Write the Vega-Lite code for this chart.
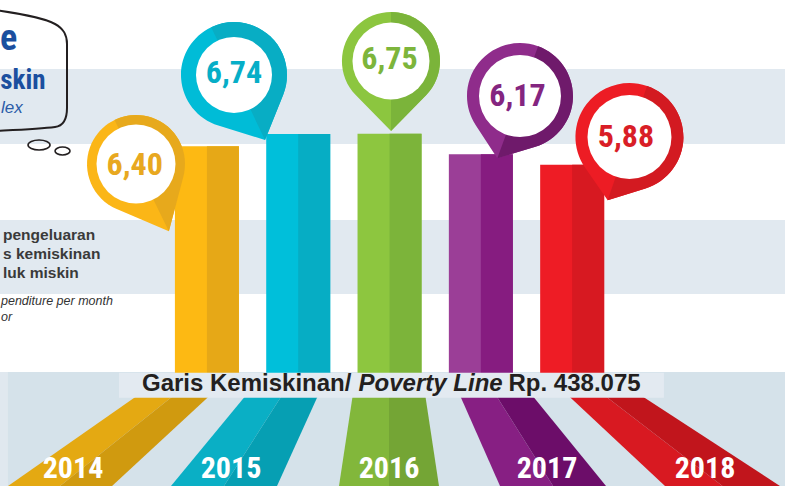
{
 "$schema": "https://vega.github.io/schema/vega-lite/v6.json",
 "width": 785, "height": 486, "autosize": "none", "padding": 0, "background": "#ffffff",
 "config": {"view": {"stroke": null}, "locale": {"number": {"decimal": ",", "thousands": ".", "grouping": [3], "currency": ["Rp", ""]}}},
 "data": {"values": [
  {"year": 2014, "value": 6.40},
  {"year": 2015, "value": 6.74},
  {"year": 2016, "value": 6.75},
  {"year": 2017, "value": 6.17},
  {"year": 2018, "value": 5.88}
 ]},
 "resolve": {"scale": {"x": "independent", "color": "independent", "shape": "independent"}},
 "layer": [
  {"data": {"values": [{}]}, "mark": {"type": "rect", "color": "#e1e9f0"},
   "encoding": {"x": {"datum": 2011.789, "type": "quantitative", "scale": {"domain": [2011.789, 2020.276], "nice": false, "zero": false}, "axis": null}, "x2": {"datum": 2020.276},
    "y": {"datum": 8.567, "type": "quantitative", "scale": {"domain": [-3.146, 10.506], "nice": false, "zero": false}, "axis": null}, "y2": {"datum": 6.461}}},
  {"data": {"values": [{}]}, "mark": {"type": "rect", "color": "#e1e9f0"},
   "encoding": {"x": {"datum": 2011.789, "type": "quantitative", "scale": {"domain": [2011.789, 2020.276], "nice": false, "zero": false}, "axis": null}, "x2": {"datum": 2020.276},
    "y": {"datum": 4.326, "type": "quantitative", "scale": {"domain": [-3.146, 10.506], "nice": false, "zero": false}, "axis": null}, "y2": {"datum": 2.247}}},
  {"data": {"values": [{}]}, "mark": {"type": "rect", "color": "#e0e8ef"},
   "encoding": {"x": {"datum": 2011.789, "type": "quantitative", "scale": {"domain": [2011.789, 2020.276], "nice": false, "zero": false}, "axis": null}, "x2": {"datum": 2020.276},
    "y": {"datum": 0.056, "type": "quantitative", "scale": {"domain": [-3.146, 10.506], "nice": false, "zero": false}, "axis": null}, "y2": {"datum": -3.146}}},
  {"data": {"values": [{}]}, "mark": {"type": "rect", "color": "#d5e2ea"},
   "encoding": {"x": {"datum": 2011.875, "type": "quantitative", "scale": {"domain": [2011.789, 2020.276], "nice": false, "zero": false}, "axis": null}, "x2": {"datum": 2020.276},
    "y": {"datum": 0.056, "type": "quantitative", "scale": {"domain": [-3.146, 10.506], "nice": false, "zero": false}, "axis": null}, "y2": {"datum": -3.146}}},
  {"mark": {"type": "bar", "width": 64, "opacity": 1},
   "encoding": {
    "x": {"field": "year", "type": "quantitative", "scale": {"domain": [2011.789, 2020.276], "nice": false, "zero": false}, "axis": null},
    "y": {"field": "value", "type": "quantitative", "scale": {"domain": [-3.146, 10.506], "nice": false, "zero": false}, "axis": null},
    "color": {"field": "year", "type": "nominal", "scale": {"domain": [2014, 2015, 2016, 2017, 2018], "range": ["#FDB913", "#00BFDA", "#8DC63F", "#9B3E97", "#EE1C25"]}, "legend": null}}},
  {"mark": {"type": "bar", "width": 32, "xOffset": 16, "opacity": 1},
   "encoding": {
    "x": {"field": "year", "type": "quantitative", "scale": {"domain": [2011.789, 2020.276], "nice": false, "zero": false}, "axis": null},
    "y": {"field": "value", "type": "quantitative", "scale": {"domain": [-3.146, 10.506], "nice": false, "zero": false}, "axis": null},
    "color": {"field": "year", "type": "nominal", "scale": {"domain": [2014, 2015, 2016, 2017, 2018], "range": ["#E6A817", "#06ADC4", "#7CB43A", "#861C80", "#D71921"]}, "legend": null}}},
  {"mark": {"type": "point", "filled": true, "opacity": 1, "size": 40000, "strokeWidth": 0},
   "encoding": {
    "x": {"field": "year", "type": "quantitative", "scale": {"domain": [2011.789, 2020.276], "nice": false, "zero": false}, "axis": null},
    "y": {"datum": 0, "type": "quantitative", "scale": {"domain": [-3.146, 10.506], "nice": false, "zero": false}, "axis": null},
    "shape": {"field": "year", "type": "nominal", "legend": null, "scale": {"domain": [2014, 2015, 2016, 2017, 2018], "range": [
     "M -0.52 0.11 L -0.177 0.11 L -1.495 1.16 L -2.022 1.16 Z",
     "M -0.426 0.11 L -0.084 0.11 L -0.756 1.16 L -1.293 1.16 Z",
     "M -0.352 0.11 L -0.005 0.11 L -0.005 1.16 L -0.511 1.16 Z",
     "M -0.266 0.11 L 0.076 0.11 L 0.736 1.16 L 0.198 1.16 Z",
     "M -0.175 0.11 L 0.165 0.11 L 1.532 1.16 L 0.948 1.16 Z"]}},
    "color": {"field": "year", "type": "nominal", "legend": null, "scale": {"domain": [2014, 2015, 2016, 2017, 2018], "range": ["#E4A912", "#0AAFC5", "#82B73B", "#871F83", "#D81921"]}}}},
  {"mark": {"type": "point", "filled": true, "opacity": 1, "size": 40000, "strokeWidth": 0},
   "encoding": {
    "x": {"field": "year", "type": "quantitative", "scale": {"domain": [2011.789, 2020.276], "nice": false, "zero": false}, "axis": null},
    "y": {"datum": 0, "type": "quantitative", "scale": {"domain": [-3.146, 10.506], "nice": false, "zero": false}, "axis": null},
    "shape": {"field": "year", "type": "nominal", "legend": null, "scale": {"domain": [2014, 2015, 2016, 2017, 2018], "range": [
     "M -0.177 0.11 L 0.167 0.11 L -0.968 1.16 L -1.495 1.16 Z",
     "M -0.084 0.11 L 0.258 0.11 L -0.218 1.16 L -0.756 1.16 Z",
     "M -0.005 0.11 L 0.342 0.11 L 0.501 1.16 L -0.005 1.16 Z",
     "M 0.076 0.11 L 0.418 0.11 L 1.273 1.16 L 0.736 1.16 Z",
     "M 0.165 0.11 L 0.505 0.11 L 2.116 1.16 L 1.532 1.16 Z"]}},
    "color": {"field": "year", "type": "nominal", "legend": null, "scale": {"domain": [2014, 2015, 2016, 2017, 2018], "range": ["#D09A0F", "#069FB3", "#74A535", "#6C0D69", "#C1151C"]}}}},
  {"data": {"values": [{}]}, "mark": {"type": "rect", "color": "#e3eaf1"},
   "encoding": {"x": {"datum": 2013.0755, "type": "quantitative", "scale": {"domain": [2011.789, 2020.276], "nice": false, "zero": false}, "axis": null}, "x2": {"datum": 2018.967},
    "y": {"datum": 0.0365, "type": "quantitative", "scale": {"domain": [-3.146, 10.506], "nice": false, "zero": false}, "axis": null}, "y2": {"datum": -0.666}}},
  {"data": {"values": [{}]}, "mark": {"type": "text", "text": "Garis Kemiskinan/", "font": "Liberation Sans, Arial, sans-serif", "fontSize": 24, "fontWeight": "bold", "color": "#231f20", "align": "left", "baseline": "alphabetic"},
   "encoding": {"x": {"datum": 2013.324, "type": "quantitative", "scale": {"domain": [2011.789, 2020.276], "nice": false, "zero": false}, "axis": null}, "y": {"datum": -0.489, "type": "quantitative", "scale": {"domain": [-3.146, 10.506], "nice": false, "zero": false}, "axis": null}}},
  {"data": {"values": [{}]}, "mark": {"type": "text", "text": "Poverty Line", "font": "Liberation Sans, Arial, sans-serif", "fontSize": 24, "fontWeight": "bold", "fontStyle": "italic", "color": "#231f20", "align": "left", "baseline": "alphabetic"},
   "encoding": {"x": {"datum": 2015.666, "type": "quantitative", "scale": {"domain": [2011.789, 2020.276], "nice": false, "zero": false}, "axis": null}, "y": {"datum": -0.489, "type": "quantitative", "scale": {"domain": [-3.146, 10.506], "nice": false, "zero": false}, "axis": null}}},
  {"data": {"values": [{}]}, "mark": {"type": "text", "text": "Rp. 438.075", "font": "Liberation Sans, Arial, sans-serif", "fontSize": 24, "fontWeight": "bold", "color": "#231f20", "align": "left", "baseline": "alphabetic"},
   "encoding": {"x": {"datum": 2017.287, "type": "quantitative", "scale": {"domain": [2011.789, 2020.276], "nice": false, "zero": false}, "axis": null}, "y": {"datum": -0.489, "type": "quantitative", "scale": {"domain": [-3.146, 10.506], "nice": false, "zero": false}, "axis": null}}},
  {"mark": {"type": "text", "font": "Roboto Condensed, Roboto", "fontSize": 30, "fontWeight": "bold", "color": "#ffffff", "align": "center", "baseline": "middle"},
   "encoding": {"x": {"field": "year", "type": "quantitative", "scale": {"domain": [2013.538, 2018.5063], "nice": false, "zero": false}, "axis": null},
    "y": {"datum": -2.669, "type": "quantitative", "scale": {"domain": [-3.146, 10.506], "nice": false, "zero": false}, "axis": null},
    "text": {"field": "year", "type": "ordinal"}}},
  {"transform": [{"filter": "datum.year == 2014"}],
   "encoding": {"x": {"field": "year", "type": "quantitative", "scale": {"domain": [2011.789, 2020.276], "nice": false, "zero": false}, "axis": null},
    "y": {"field": "value", "type": "quantitative", "scale": {"domain": [-3.146, 10.506], "nice": false, "zero": false}, "axis": null}},
   "layer": [
   {"mark": {"type": "point", "shape": "M 0.757 0.654 L 0 1.53 L -0.757 0.654 A 1 1 0 1 1 0.757 0.654 Z", "filled": true, "fill": "#FBB617", "opacity": 1, "size": 9604, "angle": 334, "xOffset": -68.5, "yOffset": 17.8, "strokeWidth": 0}},
   {"mark": {"type": "point", "shape": "M 0 -1 A 1 1 0 0 1 0.757 0.654 L 0 1.53 Z", "filled": true, "fill": "#E7A91C", "opacity": 1, "size": 9604, "angle": 334, "xOffset": -68.5, "yOffset": 17.8, "strokeWidth": 0}},
   {"mark": {"type": "point", "shape": "circle", "filled": true, "fill": "#ffffff", "opacity": 1, "size": 6241, "xOffset": -68.5, "yOffset": 17.8, "strokeWidth": 0}},
   {"mark": {"type": "text", "font": "Roboto Condensed, Roboto", "fontSize": 32, "fontWeight": "bold", "color": "#E8A820", "align": "center", "baseline": "middle", "xOffset": -69.8, "yOffset": 18.8},
    "encoding": {"text": {"field": "value", "type": "quantitative", "format": ".2f"}}}
  ]},
  {"transform": [{"filter": "datum.year == 2015"}],
   "encoding": {"x": {"field": "year", "type": "quantitative", "scale": {"domain": [2011.789, 2020.276], "nice": false, "zero": false}, "axis": null},
    "y": {"field": "value", "type": "quantitative", "scale": {"domain": [-3.146, 10.506], "nice": false, "zero": false}, "axis": null}},
   "layer": [
   {"mark": {"type": "point", "shape": "M 0.678 0.735 L 0 1.36 L -0.678 0.735 A 1 1 0 1 1 0.678 0.735 Z", "filled": true, "fill": "#00BCD7", "opacity": 1, "size": 11236, "angle": 334.5, "xOffset": -63, "yOffset": -59.1, "strokeWidth": 0}},
   {"mark": {"type": "point", "shape": "M 0 -1 A 1 1 0 0 1 0.678 0.735 L 0 1.36 Z", "filled": true, "fill": "#08ADC4", "opacity": 1, "size": 11236, "angle": 334.5, "xOffset": -63, "yOffset": -59.1, "strokeWidth": 0}},
   {"mark": {"type": "point", "shape": "circle", "filled": true, "fill": "#ffffff", "opacity": 1, "size": 5776, "xOffset": -63, "yOffset": -59.1, "strokeWidth": 0}},
   {"mark": {"type": "text", "font": "Roboto Condensed, Roboto", "fontSize": 32, "fontWeight": "bold", "color": "#06AEC7", "align": "center", "baseline": "middle", "xOffset": -63, "yOffset": -60.7},
    "encoding": {"text": {"field": "value", "type": "quantitative", "format": ".2f"}}}
  ]},
  {"transform": [{"filter": "datum.year == 2016"}],
   "encoding": {"x": {"field": "year", "type": "quantitative", "scale": {"domain": [2011.789, 2020.276], "nice": false, "zero": false}, "axis": null},
    "y": {"field": "value", "type": "quantitative", "scale": {"domain": [-3.146, 10.506], "nice": false, "zero": false}, "axis": null}},
   "layer": [
   {"mark": {"type": "point", "shape": "M 0.715 0.699 L 0 1.43 L -0.715 0.699 A 1 1 0 1 1 0.715 0.699 Z", "filled": true, "fill": "#8CC63F", "opacity": 1, "size": 9604, "angle": 0, "xOffset": 1.5, "yOffset": -72.7, "strokeWidth": 0}},
   {"mark": {"type": "point", "shape": "M 0 -1 A 1 1 0 0 1 0.715 0.699 L 0 1.43 Z", "filled": true, "fill": "#7BB43A", "opacity": 1, "size": 9604, "angle": 0, "xOffset": 1.5, "yOffset": -72.7, "strokeWidth": 0}},
   {"mark": {"type": "point", "shape": "circle", "filled": true, "fill": "#ffffff", "opacity": 1, "size": 5929, "xOffset": 1.5, "yOffset": -72.7, "strokeWidth": 0}},
   {"mark": {"type": "text", "font": "Roboto Condensed, Roboto", "fontSize": 32, "fontWeight": "bold", "color": "#7DB53B", "align": "center", "baseline": "middle", "xOffset": 0, "yOffset": -75.1},
    "encoding": {"text": {"field": "value", "type": "quantitative", "format": ".2f"}}}
  ]},
  {"transform": [{"filter": "datum.year == 2017"}],
   "encoding": {"x": {"field": "year", "type": "quantitative", "scale": {"domain": [2011.789, 2020.276], "nice": false, "zero": false}, "axis": null},
    "y": {"field": "value", "type": "quantitative", "scale": {"domain": [-3.146, 10.506], "nice": false, "zero": false}, "axis": null}},
   "layer": [
   {"mark": {"type": "point", "shape": "M 0.6 0.8 L 0 1.25 L -0.6 0.8 A 1 1 0 1 1 0.6 0.8 Z", "filled": true, "fill": "#8F2C8B", "opacity": 1, "size": 11236, "angle": 20, "xOffset": 38, "yOffset": -58.35, "strokeWidth": 0}},
   {"mark": {"type": "point", "shape": "M 0 -1 A 1 1 0 0 1 0.6 0.8 L 0 1.25 Z", "filled": true, "fill": "#6F1A6B", "opacity": 1, "size": 11236, "angle": 20, "xOffset": 38, "yOffset": -58.35, "strokeWidth": 0}},
   {"mark": {"type": "point", "shape": "circle", "filled": true, "fill": "#ffffff", "opacity": 1, "size": 6724, "xOffset": 38, "yOffset": -58.35, "strokeWidth": 0}},
   {"mark": {"type": "text", "font": "Roboto Condensed, Roboto", "fontSize": 32, "fontWeight": "bold", "color": "#842580", "align": "center", "baseline": "middle", "xOffset": 35.5, "yOffset": -58.35},
    "encoding": {"text": {"field": "value", "type": "quantitative", "format": ".2f"}}}
  ]},
  {"transform": [{"filter": "datum.year == 2018"}],
   "encoding": {"x": {"field": "year", "type": "quantitative", "scale": {"domain": [2011.789, 2020.276], "nice": false, "zero": false}, "axis": null},
    "y": {"field": "value", "type": "quantitative", "scale": {"domain": [-3.146, 10.506], "nice": false, "zero": false}, "axis": null}},
   "layer": [
   {"mark": {"type": "point", "shape": "M 0.591 0.806 L 0 1.24 L -0.591 0.806 A 1 1 0 1 1 0.591 0.806 Z", "filled": true, "fill": "#ED1C24", "opacity": 1, "size": 11664, "angle": 19, "xOffset": 55, "yOffset": -27.7, "strokeWidth": 0}},
   {"mark": {"type": "point", "shape": "M 0 -1 A 1 1 0 0 1 0.591 0.806 L 0 1.24 Z", "filled": true, "fill": "#D31A21", "opacity": 1, "size": 11664, "angle": 19, "xOffset": 55, "yOffset": -27.7, "strokeWidth": 0}},
   {"mark": {"type": "point", "shape": "circle", "filled": true, "fill": "#ffffff", "opacity": 1, "size": 7056, "xOffset": 55, "yOffset": -27.7, "strokeWidth": 0}},
   {"mark": {"type": "text", "font": "Roboto Condensed, Roboto", "fontSize": 32, "fontWeight": "bold", "color": "#D91E27", "align": "center", "baseline": "middle", "xOffset": 51.5, "yOffset": -27.7},
    "encoding": {"text": {"field": "value", "type": "quantitative", "format": ".2f"}}}
  ]},
  {"data": {"values": [{}]}, "mark": {"type": "point", "shape": "M -0.05 0.10 C 0.15 0.13 0.42 0.17 0.55 0.24 C 0.64 0.29 0.67 0.35 0.67 0.44 L 0.67 1.08 C 0.67 1.2 0.63 1.26 0.55 1.27 C 0.4 1.29 0.15 1.3 -0.05 1.31", "filled": false, "stroke": "#231f20", "strokeWidth": 2, "opacity": 1, "size": 40000},
   "encoding": {"x": {"datum": 2011.789, "type": "quantitative", "scale": {"domain": [2011.789, 2020.276], "nice": false, "zero": false}, "axis": null}, "y": {"datum": 10.506, "type": "quantitative", "scale": {"domain": [-3.146, 10.506], "nice": false, "zero": false}, "axis": null}}},
  {"data": {"values": [{}]}, "mark": {"type": "point", "shape": "M -1 0 A 1 0.45 0 1 0 1 0 A 1 0.45 0 1 0 -1 0 Z", "filled": false, "stroke": "#231f20", "strokeWidth": 1.6, "opacity": 1, "size": 484},
   "encoding": {"x": {"datum": 2012.211, "type": "quantitative", "scale": {"domain": [2011.789, 2020.276], "nice": false, "zero": false}, "axis": null}, "y": {"datum": 6.433, "type": "quantitative", "scale": {"domain": [-3.146, 10.506], "nice": false, "zero": false}, "axis": null}}},
  {"data": {"values": [{}]}, "mark": {"type": "point", "shape": "M -1 0 A 1 0.53 0 1 0 1 0 A 1 0.53 0 1 0 -1 0 Z", "filled": false, "stroke": "#231f20", "strokeWidth": 1.6, "opacity": 1, "size": 225},
   "encoding": {"x": {"datum": 2012.465, "type": "quantitative", "scale": {"domain": [2011.789, 2020.276], "nice": false, "zero": false}, "axis": null}, "y": {"datum": 6.264, "type": "quantitative", "scale": {"domain": [-3.146, 10.506], "nice": false, "zero": false}, "axis": null}}},
  {"data": {"values": [{}]}, "mark": {"type": "text", "text": "e", "font": "Roboto Condensed, Roboto", "fontSize": 36, "fontWeight": "bold", "color": "#1b4f9f", "align": "left", "baseline": "alphabetic"},
   "encoding": {"x": {"datum": 2011.790, "type": "quantitative", "scale": {"domain": [2011.789, 2020.276], "nice": false, "zero": false}, "axis": null}, "y": {"datum": 9.101, "type": "quantitative", "scale": {"domain": [-3.146, 10.506], "nice": false, "zero": false}, "axis": null}}},
  {"data": {"values": [{}]}, "mark": {"type": "text", "text": "skin", "font": "Roboto Condensed, Roboto", "fontSize": 27, "fontWeight": "bold", "color": "#1b4f9f", "align": "left", "baseline": "alphabetic"},
   "encoding": {"x": {"datum": 2011.792, "type": "quantitative", "scale": {"domain": [2011.789, 2020.276], "nice": false, "zero": false}, "axis": null}, "y": {"datum": 8.006, "type": "quantitative", "scale": {"domain": [-3.146, 10.506], "nice": false, "zero": false}, "axis": null}}},
  {"data": {"values": [{}]}, "mark": {"type": "text", "text": "lex", "font": "Liberation Sans, Arial, sans-serif", "fontSize": 17, "fontStyle": "italic", "color": "#2b5ca8", "align": "left", "baseline": "alphabetic"},
   "encoding": {"x": {"datum": 2011.800, "type": "quantitative", "scale": {"domain": [2011.789, 2020.276], "nice": false, "zero": false}, "axis": null}, "y": {"datum": 7.331, "type": "quantitative", "scale": {"domain": [-3.146, 10.506], "nice": false, "zero": false}, "axis": null}}},
  {"data": {"values": [{}]}, "mark": {"type": "text", "text": "pengeluaran", "font": "Liberation Sans, Arial, sans-serif", "fontSize": 15.5, "fontWeight": "bold", "color": "#3a3a3a", "align": "left", "baseline": "alphabetic"},
   "encoding": {"x": {"datum": 2011.8214, "type": "quantitative", "scale": {"domain": [2011.789, 2020.276], "nice": false, "zero": false}, "axis": null}, "y": {"datum": 3.764, "type": "quantitative", "scale": {"domain": [-3.146, 10.506], "nice": false, "zero": false}, "axis": null}}},
  {"data": {"values": [{}]}, "mark": {"type": "text", "text": "s kemiskinan", "font": "Liberation Sans, Arial, sans-serif", "fontSize": 15.5, "fontWeight": "bold", "color": "#3a3a3a", "align": "left", "baseline": "alphabetic"},
   "encoding": {"x": {"datum": 2011.8214, "type": "quantitative", "scale": {"domain": [2011.789, 2020.276], "nice": false, "zero": false}, "axis": null}, "y": {"datum": 3.230, "type": "quantitative", "scale": {"domain": [-3.146, 10.506], "nice": false, "zero": false}, "axis": null}}},
  {"data": {"values": [{}]}, "mark": {"type": "text", "text": "luk miskin", "font": "Liberation Sans, Arial, sans-serif", "fontSize": 15.5, "fontWeight": "bold", "color": "#3a3a3a", "align": "left", "baseline": "alphabetic"},
   "encoding": {"x": {"datum": 2011.8214, "type": "quantitative", "scale": {"domain": [2011.789, 2020.276], "nice": false, "zero": false}, "axis": null}, "y": {"datum": 2.697, "type": "quantitative", "scale": {"domain": [-3.146, 10.506], "nice": false, "zero": false}, "axis": null}}},
  {"data": {"values": [{}]}, "mark": {"type": "text", "text": "penditure per month", "font": "Liberation Sans, Arial, sans-serif", "fontSize": 12.5, "fontStyle": "italic", "color": "#333333", "align": "left", "baseline": "alphabetic"},
   "encoding": {"x": {"datum": 2011.800, "type": "quantitative", "scale": {"domain": [2011.789, 2020.276], "nice": false, "zero": false}, "axis": null}, "y": {"datum": 1.938, "type": "quantitative", "scale": {"domain": [-3.146, 10.506], "nice": false, "zero": false}, "axis": null}}},
  {"data": {"values": [{}]}, "mark": {"type": "text", "text": "or", "font": "Liberation Sans, Arial, sans-serif", "fontSize": 12.5, "fontStyle": "italic", "color": "#333333", "align": "left", "baseline": "alphabetic"},
   "encoding": {"x": {"datum": 2011.800, "type": "quantitative", "scale": {"domain": [2011.789, 2020.276], "nice": false, "zero": false}, "axis": null}, "y": {"datum": 1.489, "type": "quantitative", "scale": {"domain": [-3.146, 10.506], "nice": false, "zero": false}, "axis": null}}}
 ]
}
